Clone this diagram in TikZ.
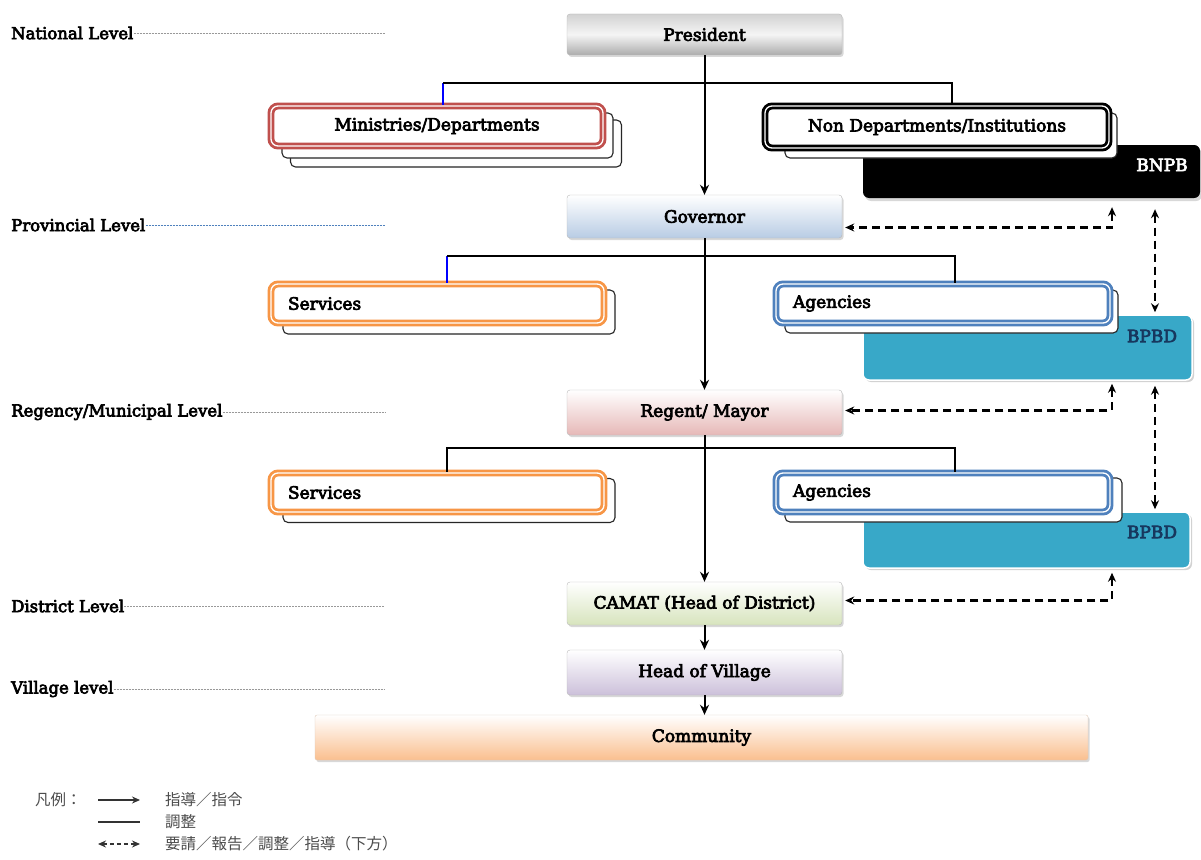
\documentclass[tikz,border=0pt]{standalone}
\usepackage{fontspec}
\setmainfont{DejaVu Serif}[BoldFont={DejaVu Serif},BoldFeatures={FakeBold=4}]
\newfontfamily\cjk{Noto Sans CJK JP}
\usetikzlibrary{arrows.meta,shadows,calc}
\definecolor{minred}{RGB}{192,80,77}
\definecolor{svorange}{RGB}{247,150,70}
\definecolor{agblue}{RGB}{79,129,189}
\definecolor{bpbdc}{RGB}{56,168,200}
\definecolor{navy}{RGB}{23,55,94}
\definecolor{govc}{RGB}{184,204,228}
\definecolor{regc}{RGB}{230,184,183}
\definecolor{camc}{RGB}{215,228,189}
\definecolor{hovc}{RGB}{204,192,218}
\definecolor{comc}{RGB}{250,191,143}
\begin{document}
\begin{tikzpicture}[x=1pt,y=-1pt,
  lbl/.style={font=\fontsize{17}{20}\selectfont\bfseries},
  lev/.style={anchor=west, inner sep=0pt, font=\fontsize{16.5}{19}\selectfont\bfseries},
  levln/.style={gray!80, line width=0.7pt, dash pattern=on 2pt off 1pt},
  lvlbox/.style={draw=gray!55, rounded corners=3pt, minimum width=275pt, inner sep=0pt, lbl,
     drop shadow={shadow xshift=1.5pt,shadow yshift=-2pt,opacity=.3}},
  stk/.style={draw=black!85, fill=white, rounded corners=5pt, line width=1.1pt, inner sep=0pt},
  dbl/.style={draw=#1, fill=white, line width=2.8pt, double=white, double distance=1.3pt,
     rounded corners=7pt, inner sep=0pt, lbl},
  lefttext/.style={text width=300pt, align=left, inner xsep=17pt},
  bpbd/.style={fill=bpbdc, draw=white, line width=1.5pt, rounded corners=6pt,
     drop shadow={shadow xshift=2pt,shadow yshift=-2pt,opacity=.35}},
  cn/.style={line width=1.4pt},
  arr/.style={line width=2pt, -{Stealth[length=10pt,width=9pt]}},
  dsh/.style={line width=2.4pt, dash pattern=on 8pt off 5pt,
     {Stealth[length=9pt,width=8pt]}-{Stealth[length=9pt,width=8pt]}},
  leg/.style={anchor=west, inner sep=0pt, font=\cjk\fontsize{15.5}{18}\selectfont, text=gray!60!black}
]
\useasboundingbox[fill=white] (0,0) rectangle (1201,859);

% level labels
\node[lev] (nl) at (11,33) {National Level};
\coordinate (nle) at (385,33);
\draw[levln] (nl.east) -- (nle);
\node[lev] (pl) at (11,225) {Provincial Level};
\coordinate (ple) at (385,225);
\draw[levln, agblue] (pl.east) -- (ple);
\node[lev] (rl) at (11,412) {Regency/Municipal Level};
\coordinate (rle) at (385,412);
\draw[levln] (rl.east) -- (rle);
\node[lev] (dl) at (11,606) {District Level};
\coordinate (dle) at (385,606);
\draw[levln] (dl.east) -- (dle);
\node[lev] (vl) at (11,689) {Village level};
\coordinate (vle) at (385,689);
\draw[levln] (vl.east) -- (vle);

% main chain
\node[lvlbox, minimum height=41pt, top color=gray!35, bottom color=gray!65, middle color=gray!8] (pres) at (704.5,34.5) {President};
\node[lvlbox, minimum height=43pt, top color=white, bottom color=govc] (gov) at (704.5,216.5) {Governor};
\node[lvlbox, minimum height=45pt, top color=white, bottom color=regc] (reg) at (704.5,412.5) {Regent/ Mayor};
\node[lvlbox, minimum height=43pt, top color=white, bottom color=camc] (camat) at (704.5,603.5) {CAMAT (Head of District)};
\node[lvlbox, minimum height=45pt, top color=white, bottom color=hovc] (hov) at (704.5,672.5) {Head of Village};
\node[lvlbox, draw=comc!60!gray!60, minimum width=773pt, minimum height=45pt, top color=white, bottom color=comc, rounded corners=2pt] (comm) at (701.5,737.5) {Community};

% national level side boxes
\node[fill=black, rounded corners=6pt, minimum width=337pt, minimum height=53pt,
  drop shadow={shadow xshift=2pt,shadow yshift=-3pt,opacity=.3}] (bnpb) at (1031.5,171.5) {};
\node[lbl, text=white, inner sep=0pt] (bnpbt) at (1162,165) {BNPB};
\node[stk, minimum width=332pt, minimum height=45pt] (nds) at (951,135.5) {};
\node[dbl=black, minimum width=344pt, minimum height=42pt] (nd) at (937,127) {Non Departments/Institutions};

\node[stk, minimum width=331pt, minimum height=47pt] (mins2) at (456,143.5) {};
\node[stk, minimum width=331pt, minimum height=45pt] (mins1) at (447.5,135.5) {};
\node[dbl=minred, minimum width=332pt, minimum height=40pt] (min) at (437,126) {Ministries/Departments};

% provincial side boxes
\node[bpbd, minimum width=329pt, minimum height=65pt] (bp1) at (1027.5,347.5) {};
\node[lbl, text=navy, inner sep=0pt] (bp1t) at (1152,336) {BPBD};
\node[stk, minimum width=333pt, minimum height=43pt] (ag1s) at (951.5,311.5) {};
\node[dbl=agblue, lefttext, minimum height=39pt] (ag1) at (943,303.5) {Agencies};
\node[stk, minimum width=332pt, minimum height=44pt] (sv1s) at (449,312) {};
\node[dbl=svorange, lefttext, text width=299pt, minimum height=39pt] (sv1) at (437.5,303.5) {Services};

% regency side boxes
\node[bpbd, minimum width=327pt, minimum height=56pt] (bp2) at (1026.5,540) {};
\node[lbl, text=navy, inner sep=0pt] (bp2t) at (1152,532) {BPBD};
\node[stk, minimum width=337pt, minimum height=44pt] (ag2s) at (953.5,500) {};
\node[dbl=agblue, lefttext, minimum height=39pt] (ag2) at (943,492.5) {Agencies};
\node[stk, minimum width=332pt, minimum height=44pt] (sv2s) at (449,500.5) {};
\node[dbl=svorange, lefttext, text width=299pt, minimum height=39pt] (sv2) at (437.5,492.5) {Services};

% coordination lines
\coordinate (j1) at (443,83); \coordinate (j2) at (952,83);
\draw[cn, blue] (min.north -| j1) -- (j1);
\draw[cn] (j1) -- (j2) -- (j2 |- nd.north);
\coordinate (j3) at (447,256); \coordinate (j4) at (955,256);
\draw[cn, blue] (sv1.north -| j3) -- (j3);
\draw[cn] (j3) -- (j4) -- (j4 |- ag1.north);
\coordinate (j5) at (447,448); \coordinate (j6) at (955,448);
\draw[cn] (sv2.north -| j5) -- (j5) -- (j6) -- (j6 |- ag2.north);

% command arrows
\draw[arr] (pres) -- (gov);
\draw[arr] (gov) -- (reg);
\draw[arr] (reg) -- (camat);
\draw[arr] (camat) -- (hov);
\draw[arr] (hov.south) -- (hov.south |- comm.north);

% dashed request/report arrows
\coordinate (xa) at (1112,0); \coordinate (xb) at (1155,0);
\draw[dsh] ($(xa |- bnpb.south)+(0,9)$) -- ($(xa |- gov.east)+(0,11)$) -- ($(gov.east)+(3,11)$);
\draw[dsh] ($(xa |- bp1.south)+(0,3)$) -- ($(xa |- reg.east)+(0,-2)$) -- ($(reg.east)+(3,-2)$);
\draw[dsh] ($(xa |- bp2.south)+(0,4)$) -- ($(xa |- camat.east)+(0,-3)$) -- ($(camat.east)+(3,-3)$);
\draw[dsh] ($(xb |- bnpb.south)+(0,11)$) -- ($(xb |- bp1.north)+(0,-2)$);
\draw[dsh] ($(xb |- bp1.south)+(0,5)$) -- ($(xb |- bp2.north)+(0,-2)$);

% legend
\node[leg] (lg0) at (35,800) {凡例：};
\coordinate (la1) at (98,800); \coordinate (lb1) at (140,800);
\draw[line width=1.4pt, gray!40!black, -{Stealth[length=8pt,width=7pt]}] (la1) -- (lb1);
\node[leg] (lg1) at (165,800) {指導／指令};
\coordinate (la2) at (98,822); \coordinate (lb2) at (140,822);
\draw[line width=1.4pt, gray!40!black] (la2) -- (lb2);
\node[leg] (lg2) at (165,822) {調整};
\coordinate (la3) at (98,844); \coordinate (lb3) at (140,844);
\draw[line width=1.4pt, gray!40!black, dash pattern=on 4pt off 3pt,
  {Stealth[length=8pt,width=7pt]}-{Stealth[length=8pt,width=7pt]}] (la3) -- (lb3);
\node[leg] (lg3) at (165,844) {要請／報告／調整／指導（下方）};
\end{tikzpicture}
\end{document}
